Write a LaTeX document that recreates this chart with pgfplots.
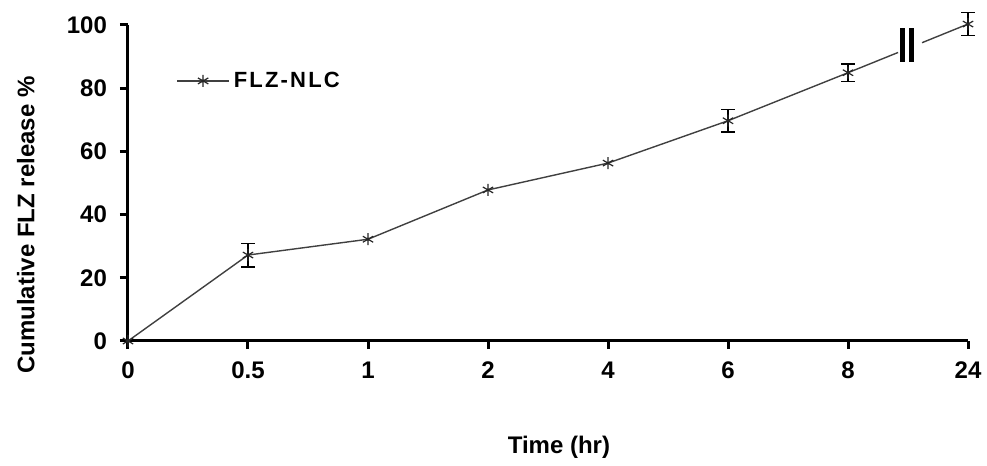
\documentclass[border=0pt]{standalone}
\usepackage{pgfplots}
\usepackage{pgfplotstable}
\pgfplotsset{compat=1.18}
\usepackage{fontspec}
\setmainfont{Liberation Sans}

\pgfplotstableread{
x y
0 0
1 27.2
2 32.2
3 47.8
4 56.3
5 69.7
6 84.9
7 100.3
}\maindata
\pgfplotstableread{
x y e
1 27.2 3.7
5 69.7 3.5
6 84.9 2.8
7 100.3 3.6
}\errdata

\begin{document}
\begin{tikzpicture}
\begin{axis}[
  x=60pt, y=1.58pt,
  xmin=0, xmax=7, ymin=0, ymax=100,
  axis lines*=left,
  axis line style={line width=1.5pt, black, -},
  tick align=outside,
  major tick length=4pt,
  tick style={line width=1.5pt, black},
  xtick={0,...,7},
  xticklabels={0,0.5,1,2,4,6,8,24},
  ytick={0,20,...,100},
  /pgf/number format/assume math mode=true,
  ticklabel style={font=\fontsize{12}{14}\selectfont\bfseries},
  xticklabel style={yshift=-3pt},
  yticklabel style={xshift=-3pt},
  clip=false,
  ylabel={Cumulative FLZ release \%},
  ylabel style={at={(axis description cs:-0.1216,0.367)}, anchor=center, font=\fontsize{12}{14}\selectfont\bfseries},
  xlabel={Time (hr)},
  xlabel style={at={(axis description cs:0.513,-0.335)}, anchor=center, font=\fontsize{12}{14}\selectfont\bfseries},
  legend style={draw=none, fill=none, at={(axis cs:0.40,82.3)}, anchor=west, inner sep=0pt,
    font=\fontsize{11}{13}\selectfont\bfseries\addfontfeature{LetterSpace=10}},
  legend image code/.code={\draw[mark repeat=2,mark phase=2,#1] plot coordinates {(0pt,0pt)(13pt,0pt)(26pt,0pt)};},
]
\addlegendimage{black!75, line width=0.7pt, mark=asterisk, mark size=3pt, mark options={solid, line width=0.6pt, black!85}}
\addlegendentry{FLZ-NLC}

\addplot[black!75, line width=0.7pt, forget plot, restrict x to domain=0:6] table[x=x,y=y] {\maindata};
\addplot[black!75, line width=0.7pt, forget plot] coordinates {(6,84.9) (6.417,91.3)};
\addplot[black!75, line width=0.7pt, forget plot] coordinates {(6.617,94.4) (7,100.3)};
\addplot[black, line width=2.5pt, forget plot] coordinates {(6.45,88.3) (6.45,99)};
\addplot[black, line width=2.5pt, forget plot] coordinates {(6.533,88.3) (6.533,99)};

\addplot[draw=none, mark=none, forget plot,
  error bars/.cd, y dir=both, y explicit,
  error bar style={line width=0.8pt, black},
  error mark options={rotate=90, mark size=3.3pt, line width=0.8pt, black}]
  table[x=x, y=y, y error=e] {\errdata};

\addplot[only marks, mark=asterisk, mark size=3pt, mark options={line width=0.6pt, black!85}, forget plot]
  table[x=x,y=y] {\maindata};

\coordinate (O) at (axis cs:0,0);
\end{axis}
\pgfresetboundingbox
\useasboundingbox ([shift={(-64pt,-62.5pt)}]O) rectangle ([shift={(429.5pt,170.5pt)}]O);
\end{tikzpicture}
\end{document}
